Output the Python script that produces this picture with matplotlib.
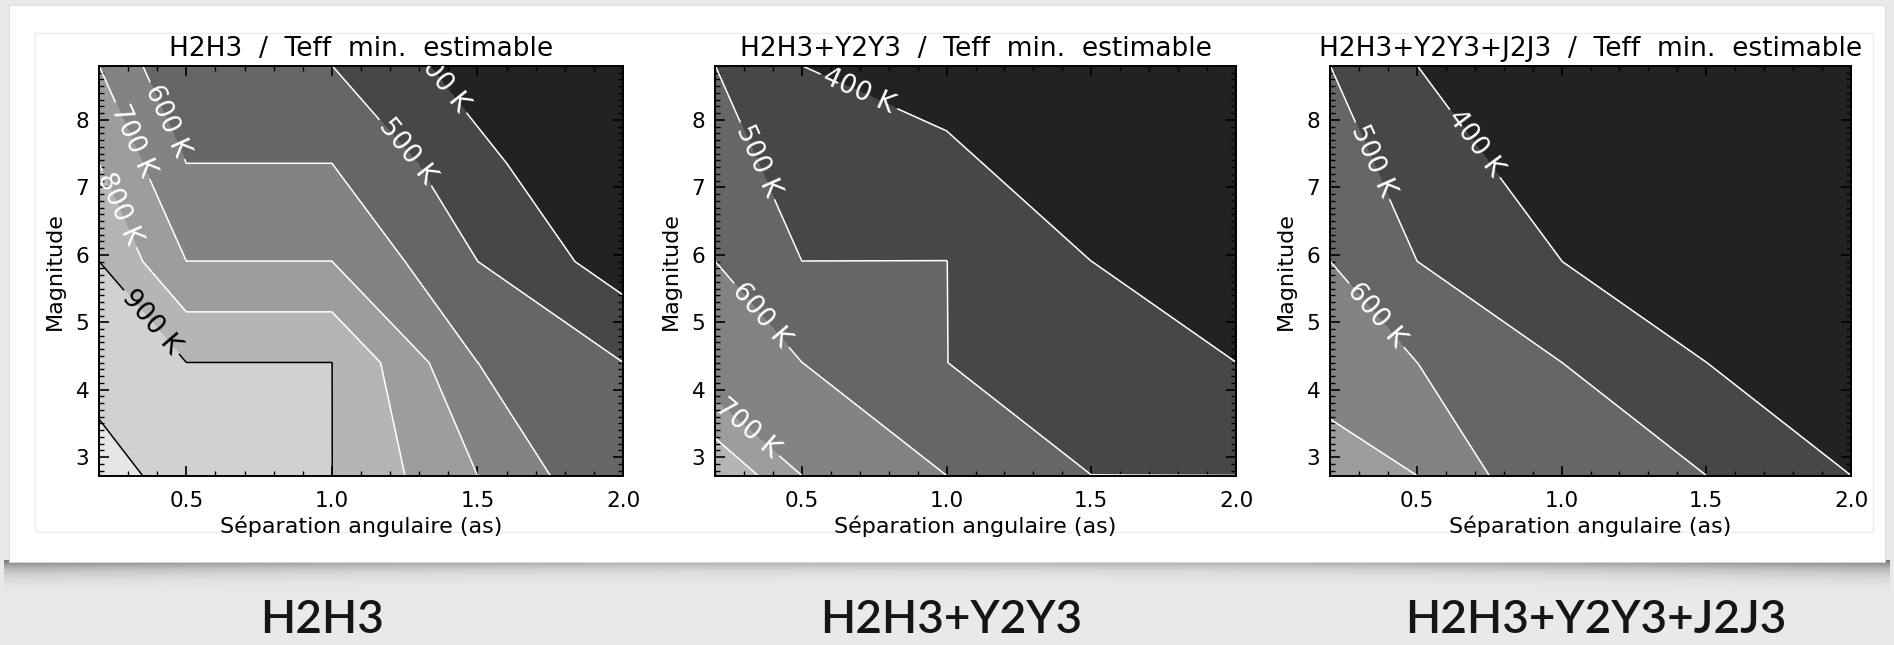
import numpy as np
import matplotlib
matplotlib.use("Agg")
import matplotlib.pyplot as plt
from matplotlib.patches import Rectangle
from matplotlib.ticker import MultipleLocator

# ---------------- data ----------------
separation = [0.2, 0.5, 1.0, 1.5, 2.0]          # angular separation (as)
magnitude = [2.72, 4.4, 5.9, 7.35, 8.8]         # magnitude grid (bottom -> top)

# minimum estimable Teff (K); rows follow `magnitude`, columns follow `separation`
teff_h2h3 = [
    [1100, 900, 900, 700, 500],
    [900, 900, 900, 600, 500],
    [900, 700, 700, 500, 350],
    [800, 600, 600, 430, 280],
    [700, 500, 500, 350, 300],
]
teff_h2h3_y2y3 = [
    [900, 700, 600, 500, 500],
    [600, 600, 500, 450, 400],
    [600, 500, 500, 400, 300],
    [590, 410, 450, 250, 250],
    [500, 400, 300, 250, 250],
]
teff_h2h3_y2y3_j2j3 = [
    [780, 700, 500, 500, 400],
    [620, 600, 500, 400, 300],
    [600, 500, 400, 300, 300],
    [550, 450, 350, 300, 300],
    [500, 400, 300, 300, 300],
]

panel_titles = ["H2H3  /  Teff  min.  estimable",
                "H2H3+Y2Y3  /  Teff  min.  estimable",
                "H2H3+Y2Y3+J2J3  /  Teff  min.  estimable"]
captions = ["H2H3", "H2H3+Y2Y3", "H2H3+Y2Y3+J2J3"]
xlabel_text = "Séparation angulaire (as)"
ylabel_text = "Magnitude"

contour_levels = [400, 500, 600, 700, 800, 900, 1000]
labelled_levels = [
    [400, 500, 600, 700, 800, 900],
    [400, 500, 600, 700],
    [400, 500, 600],
]
# approximate label anchor points (data coordinates)
label_points = [
    [(1.38, 8.62), (1.25, 7.5), (0.44, 8.0), (0.32, 7.7), (0.28, 6.7), (0.38, 5.0)],
    [(0.70, 8.45), (0.35, 7.4), (0.36, 5.1), (0.31, 3.42)],
    [(0.70, 7.65), (0.35, 7.4), (0.36, 5.1)],
]
band_colors = ['#222222', '#474747', '#666666', '#838383', '#9d9d9d',
               '#b5b5b5', '#d1d1d1', '#e6e6e6']

# ---------------- figure ----------------
W, H = 1894, 645
fig = plt.figure(figsize=(W / 100, H / 100), dpi=100)

# slide background, card and shadow
bg = fig.add_axes([0, 0, 1, 1])
bg.set_xlim(0, W)
bg.set_ylim(H, 0)
bg.axis('off')
bg.add_patch(Rectangle((0, 0), W, H, color='#e9e9e7', zorder=0))
# shadow under the card (darker at the ends, fading downwards)
xs = np.linspace(0, 1, 400)
ys = np.linspace(0, 1, 80)
XX, YY = np.meshgrid(xs, ys)
depth = 0.45 + 0.55 * (np.abs(XX - 0.5) * 2) ** 2
alpha = 0.7 * np.exp(-YY / (0.10 + 0.35 * depth)) * (0.35 + 0.65 * depth) * (1 - YY) ** 1.5
shadow = np.zeros((len(ys), len(xs), 4))
shadow[..., 0:3] = 0.25
shadow[..., 3] = alpha
bg.imshow(shadow, extent=(4, W - 4, 600, 560), aspect='auto', zorder=1,
          interpolation='bilinear')
bg.add_patch(Rectangle((9, 5), 1876, 557, facecolor='white', edgecolor='#d8d8d8',
                       linewidth=0.6, zorder=2))
bg.add_patch(Rectangle((35, 33), 1838, 499, facecolor='none', edgecolor='#ececec',
                       linewidth=1.0, zorder=3))

for cx, text in zip([322, 951, 1596], captions):
    bg.text(cx, 620, text, ha='center', va='center', fontsize=33,
            fontweight='semibold', family=['Lato', 'DejaVu Sans'],
            color='#151515', zorder=4)

# contour panels
panel_px = [(99, 623), (715, 1236), (1330, 1851)]
top_px, bottom_px = 66, 476
datasets = [teff_h2h3, teff_h2h3_y2y3, teff_h2h3_y2y3_j2j3]

# IDL-style bands: a node equal to a level belongs to the band above it
EDGE = 0.5
fill_levels = [0] + [lv - EDGE for lv in contour_levels] + [5000]
line_levels = [lv - EDGE for lv in contour_levels]
line_colors = ['black' if lv >= 900 else 'white' for lv in contour_levels]

X, Y = np.meshgrid(separation, magnitude)
for i, (data, (l, r)) in enumerate(zip(datasets, panel_px)):
    ax = fig.add_axes([l / W, 1 - bottom_px / H, (r - l) / W, (bottom_px - top_px) / H])
    Z = np.array(data, dtype=float)
    ax.contourf(X, Y, Z, levels=fill_levels, colors=band_colors)
    cs = ax.contour(X, Y, Z, levels=line_levels, colors=line_colors, linewidths=1.1)
    lab_lv = [lv - EDGE for lv in labelled_levels[i]]
    texts = ax.clabel(cs, levels=lab_lv, manual=label_points[i], inline=True,
                      inline_spacing=4, fontsize=19,
                      fmt=lambda v: f"{int(round(v))} K")
    for t in texts:
        t.set_clip_on(True)
        t.set_clip_path(ax.patch)
    ax.set_xlim(separation[0], separation[-1])
    ax.set_ylim(magnitude[0], magnitude[-1])
    ax.xaxis.set_major_locator(MultipleLocator(0.5))
    ax.xaxis.set_minor_locator(MultipleLocator(0.1))
    ax.yaxis.set_major_locator(MultipleLocator(1))
    ax.yaxis.set_minor_locator(MultipleLocator(0.1))
    ax.xaxis.set_major_formatter(plt.FuncFormatter(lambda v, p: f"{v:.1f}"))
    ax.tick_params(which='both', direction='in', top=True, right=True,
                   color='black', labelsize=15.5)
    ax.tick_params(which='major', length=7, width=1.2, pad=11)
    ax.tick_params(which='minor', length=3.5, width=1.0)
    ax.tick_params(axis='y', which='major', pad=7)
    for sp in ax.spines.values():
        sp.set_linewidth(1.4)
    ax.set_title(panel_titles[i], fontsize=19, pad=7)
    ax.set_xlabel(xlabel_text, fontsize=16, labelpad=3)
    ax.set_ylabel(ylabel_text, fontsize=16, labelpad=8)

fig.savefig("out.png", dpi=100)
